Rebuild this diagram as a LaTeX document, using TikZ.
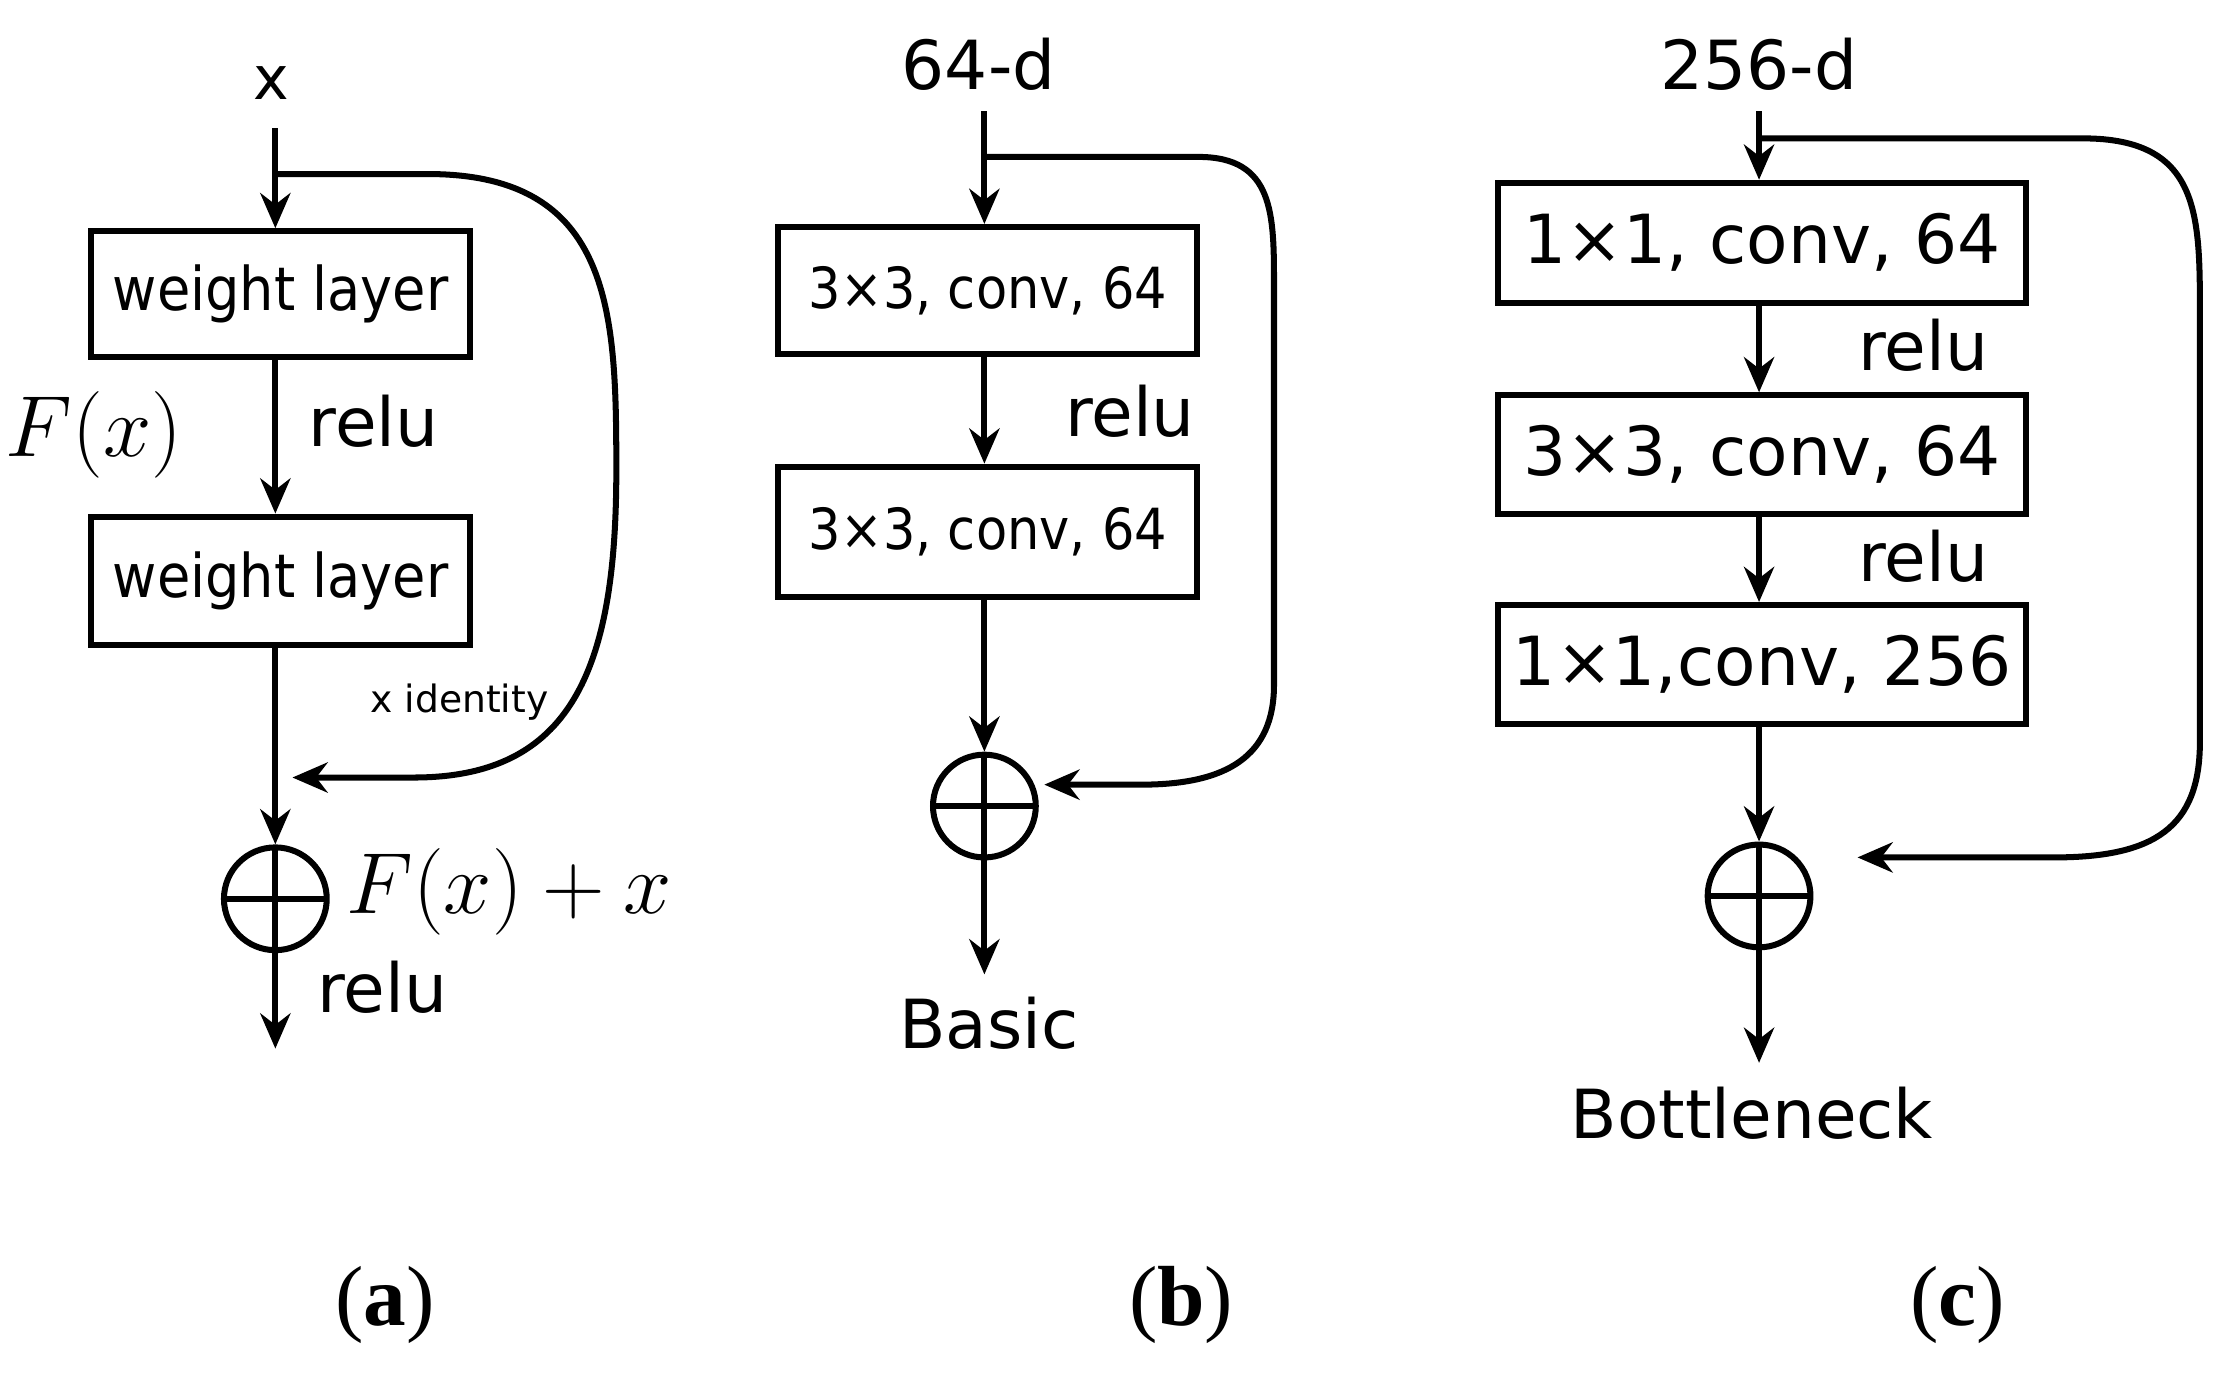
\documentclass[tikz,border=0pt]{standalone}
\usepackage{fontspec}
\setmainfont{DejaVu Sans}
\newfontfamily\cond{DejaVu Sans Condensed}
\newfontfamily\serifb{Liberation Serif}
\usetikzlibrary{arrows.meta}
\begin{document}
\begin{tikzpicture}[x=0.01cm,y=-0.01cm,
  box/.style={draw,line width=1.2pt,inner sep=0pt,anchor=north west},
  con/.style={line width=1.2pt,-{Stealth[length=7pt,width=6pt]}},
  plus/.style={draw,circle,line width=1.2pt,minimum size=0.72cm,inner sep=0pt,
    path picture={\draw[line width=1.2pt] (path picture bounding box.north)--(path picture bounding box.south) (path picture bounding box.west)--(path picture bounding box.east);}},
  la/.style={font=\cond\fontsize{12}{14}\selectfont},
  lb/.style={font=\cond\fontsize{11.3}{14}\selectfont},
  lr/.style={font=\fontsize{13.5}{16}\selectfont},
  lc/.style={font=\fontsize{13.5}{16}\selectfont},
  captxt/.style={font=\serifb\fontsize{17}{20}\selectfont}]
\useasboundingbox (0,0) rectangle (1568,964);
% (a)
\node[font=\fontsize{12}{14}\selectfont] (ax) at (190,58) {x};
\coordinate (at) at (193,90);
\coordinate (ab) at (193,122);
\node[box,minimum width=2.65cm,minimum height=0.88cm,la] (a1) at (62,160) {weight layer};
\node[box,minimum width=2.65cm,minimum height=0.9cm,la] (a2) at (62,360) {weight layer};
\node[plus] (ap) at (193,630) {};
\coordinate (ae) at (193,735);
\coordinate (ai) at (205,545);
\draw[con] (at) -- (a1.north -| at);
\draw[con] (a1.south -| at) -- (a2.north -| at);
\draw[con] (a2.south -| at) -- (ap.north);
\draw[con] (ap.south) -- (ae);
\draw[con] (ab) -- (300,122) .. controls (430,122) and (432,220) .. (432,330) .. controls (432,470) and (400,545) .. (290,545) -- (ai);
\node[lr] at (262,295) {relu};
\node[font=\fontsize{16}{18}\selectfont] at (66,305) {$F(x)$};
\node[font=\fontsize{16}{18}\selectfont] at (357,625) {$F(x)+x$};
\node[lr] at (268,692) {relu};
\node[font=\fontsize{7.5}{9}\selectfont] at (322,492) {x identity};
% (b)
\node[lr] at (686,45) {64-d};
\coordinate (bt) at (690,78);
\coordinate (bb) at (690,110);
\node[box,minimum width=2.94cm,minimum height=0.89cm,lb] (b1) at (543,157) {3×3, conv, 64};
\node[box,minimum width=2.94cm,minimum height=0.91cm,lb] (b2) at (543,325) {3×3, conv, 64};
\node[plus] (bp) at (690,565) {};
\coordinate (be) at (690,683);
\coordinate (bi) at (732,550);
\draw[con] (bt) -- (b1.north -| bt);
\draw[con] (b1.south -| bt) -- (b2.north -| bt);
\draw[con] (b2.south -| bt) -- (bp.north);
\draw[con] (bp.south) -- (be);
\draw[con] (bb) -- (840,110) .. controls (893,110) and (893,150) .. (893,200) -- (893,480) .. controls (893,530) and (860,550) .. (800,550) -- (bi);
\node[lr] at (792,288) {relu};
\node[lr] at (693,717) {Basic};
% (c)
\node[lc] at (1233,45) {256-d};
\coordinate (ct) at (1233,78);
\coordinate (cb) at (1233,97);
\node[box,minimum width=3.7cm,minimum height=0.84cm,lc] (c1) at (1048,126) {1×1, conv, 64};
\node[box,minimum width=3.7cm,minimum height=0.83cm,lc] (c2) at (1048,275) {3×3, conv, 64};
\node[box,minimum width=3.7cm,minimum height=0.83cm,lc] (c3) at (1048,422) {1×1,conv, 256};
\node[plus] (cp) at (1233,628) {};
\coordinate (ce) at (1233,745);
\coordinate (ci) at (1302,601);
\draw[con] (ct) -- (c1.north -| ct);
\draw[con] (c1.south -| ct) -- (c2.north -| ct);
\draw[con] (c2.south -| ct) -- (c3.north -| ct);
\draw[con] (c3.south -| ct) -- (cp.north);
\draw[con] (cp.south) -- (ce);
\draw[con] (cb) -- (1460,97) .. controls (1542,97) and (1542,150) .. (1542,220) -- (1542,520) .. controls (1542,580) and (1510,601) .. (1440,601) -- (ci);
\node[lc] at (1348,242) {relu};
\node[lc] at (1348,390) {relu};
\node[lc] at (1228,780) {Bottleneck};
% captions
\node[captxt] (capa) at (270,915) {(\textbf{a})};
\node[captxt] (capb) at (828,915) {(\textbf{b})};
\node[captxt] (capc) at (1372,915) {(\textbf{c})};
\end{tikzpicture}
\end{document}
